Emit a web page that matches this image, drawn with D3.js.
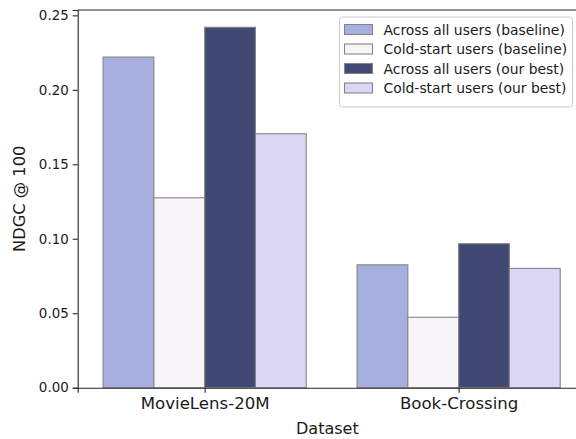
<!DOCTYPE html>
<html>
<head>
<meta charset="utf-8">
<script src="https://cdn.jsdelivr.net/npm/d3@7"></script>
<style>
  html, body { margin: 0; padding: 0; background: #fff; }
  svg { display: block; font-family: "DejaVu Sans", sans-serif; }
</style>
</head>
<body>
<svg id="chart" width="576" height="439"></svg>
<script>
// Datasets on the x axis
const datasets = ["MovieLens-20M", "Book-Crossing"];

// Series (one bar per series inside each dataset group)
const seriesNames = [
  "Across all users (baseline)",
  "Cold-start users (baseline)",
  "Across all users (our best)",
  "Cold-start users (our best)"
];
const seriesColors = ["#a6afe0", "#f7f5f7", "#414873", "#dcd7f4"];

// NDCG@100 per series, in dataset order
const acrossBaseline = [0.222, 0.0825];
const coldBaseline   = [0.1275, 0.0473];
const acrossBest     = [0.242, 0.0967];
const coldBest       = [0.1705, 0.0801];

const yTicks = [0.00, 0.05, 0.10, 0.15, 0.20, 0.25];

const seriesValues = [acrossBaseline, coldBaseline, acrossBest, coldBest];

const W = 576, H = 439;
const plot = { left: 77.7, right: 585.6, top: 10, bottom: 387.7 };

const svg = d3.select("#chart");

// Category positions: integer index, matplotlib-style limits of -0.5 .. 1.5
const x = d3.scaleLinear().domain([-0.5, datasets.length - 0.5]).range([plot.left, plot.right]);
const inner = d3.scaleBand().domain(seriesNames).range([-0.4, 0.4]);
const y = d3.scaleLinear().domain([0, 0.2536]).range([plot.bottom, plot.top]);

// Bars
const bars = [];
seriesNames.forEach((s, si) => {
  datasets.forEach((d, di) => {
    bars.push({ series: s, si, di, value: seriesValues[si][di] });
  });
});

svg.append("g")
  .selectAll("rect")
  .data(bars)
  .join("rect")
  .attr("x", d => x(d.di + inner(d.series)))
  .attr("width", d => x(d.di + inner(d.series) + inner.bandwidth()) - x(d.di + inner(d.series)))
  .attr("y", d => y(d.value))
  .attr("height", d => y(0) - y(d.value))
  .attr("fill", d => seriesColors[d.si])
  .attr("stroke", "#858585")
  .attr("stroke-width", 1.1);

// Frame (the right edge sits past the canvas)
const frame = svg.append("g").attr("stroke", "#262626").attr("stroke-width", 1.1).attr("fill", "none");
frame.append("line").attr("x1", plot.left).attr("x2", plot.right).attr("y1", plot.top).attr("y2", plot.top);
frame.append("line").attr("x1", plot.right).attr("x2", plot.right).attr("y1", plot.top).attr("y2", plot.bottom);

// Y axis
const yAxis = d3.axisLeft(y).tickValues(yTicks).tickFormat(d3.format(".2f")).tickSizeOuter(0).tickSize(5).tickPadding(4);
const gy = svg.append("g").attr("transform", `translate(${plot.left},0)`).call(yAxis);
gy.select(".domain").attr("stroke", "#262626").attr("stroke-width", 1.1);
gy.selectAll(".tick line").attr("stroke", "#262626").attr("stroke-width", 1.1);
gy.selectAll(".tick text").attr("font-size", "13.4px").attr("fill", "#1a1a1a")
  .attr("font-family", "DejaVu Sans, sans-serif");

// X axis
const xAxis = d3.axisBottom(x).tickValues(d3.range(datasets.length)).tickFormat(i => datasets[i])
  .tickSizeOuter(0).tickSize(5).tickPadding(5);
const gx = svg.append("g").attr("transform", `translate(0,${plot.bottom})`).call(xAxis);
gx.select(".domain").attr("stroke", "#262626").attr("stroke-width", 1.1);
gx.selectAll(".tick line").attr("stroke", "#262626").attr("stroke-width", 1.1);
gx.selectAll(".tick text").attr("font-size", "16.6px").attr("fill", "#1a1a1a")
  .attr("font-family", "DejaVu Sans, sans-serif");

// Axis titles
svg.append("text")
  .attr("x", (plot.left + 577) / 2)
  .attr("y", 434)
  .attr("text-anchor", "middle")
  .attr("font-size", "16px")
  .attr("fill", "#1a1a1a")
  .text("Dataset");

svg.append("text")
  .attr("transform", `translate(25,${(plot.top + plot.bottom) / 2}) rotate(-90)`)
  .attr("text-anchor", "middle")
  .attr("font-size", "16.3px")
  .attr("fill", "#1a1a1a")
  .text("NDGC @ 100");

// Legend
const legend = { x: 339, y: 16.5, w: 233, h: 90, row: 19.5 };
const lg = svg.append("g");
lg.append("rect")
  .attr("x", legend.x + 0.5).attr("y", legend.y + 0.5)
  .attr("width", legend.w).attr("height", legend.h)
  .attr("rx", 3).attr("fill", "#fff").attr("fill-opacity", 0.8)
  .attr("stroke", "#cccccc").attr("stroke-width", 1);

const items = lg.selectAll("g.item").data(seriesNames).join("g")
  .attr("class", "item")
  .attr("transform", (d, i) => `translate(${legend.x + 5.5},${legend.y + 13 + i * legend.row})`);
items.append("rect")
  .attr("x", 0).attr("y", -5)
  .attr("width", 28).attr("height", 10)
  .attr("fill", (d, i) => seriesColors[i])
  .attr("stroke", "#858585").attr("stroke-width", 1.1);
items.append("text")
  .attr("x", 39).attr("y", 0)
  .attr("dy", "0.36em")
  .attr("font-size", "13.9px")
  .attr("fill", "#1a1a1a")
  .text(d => d);
</script>
</body>
</html>
